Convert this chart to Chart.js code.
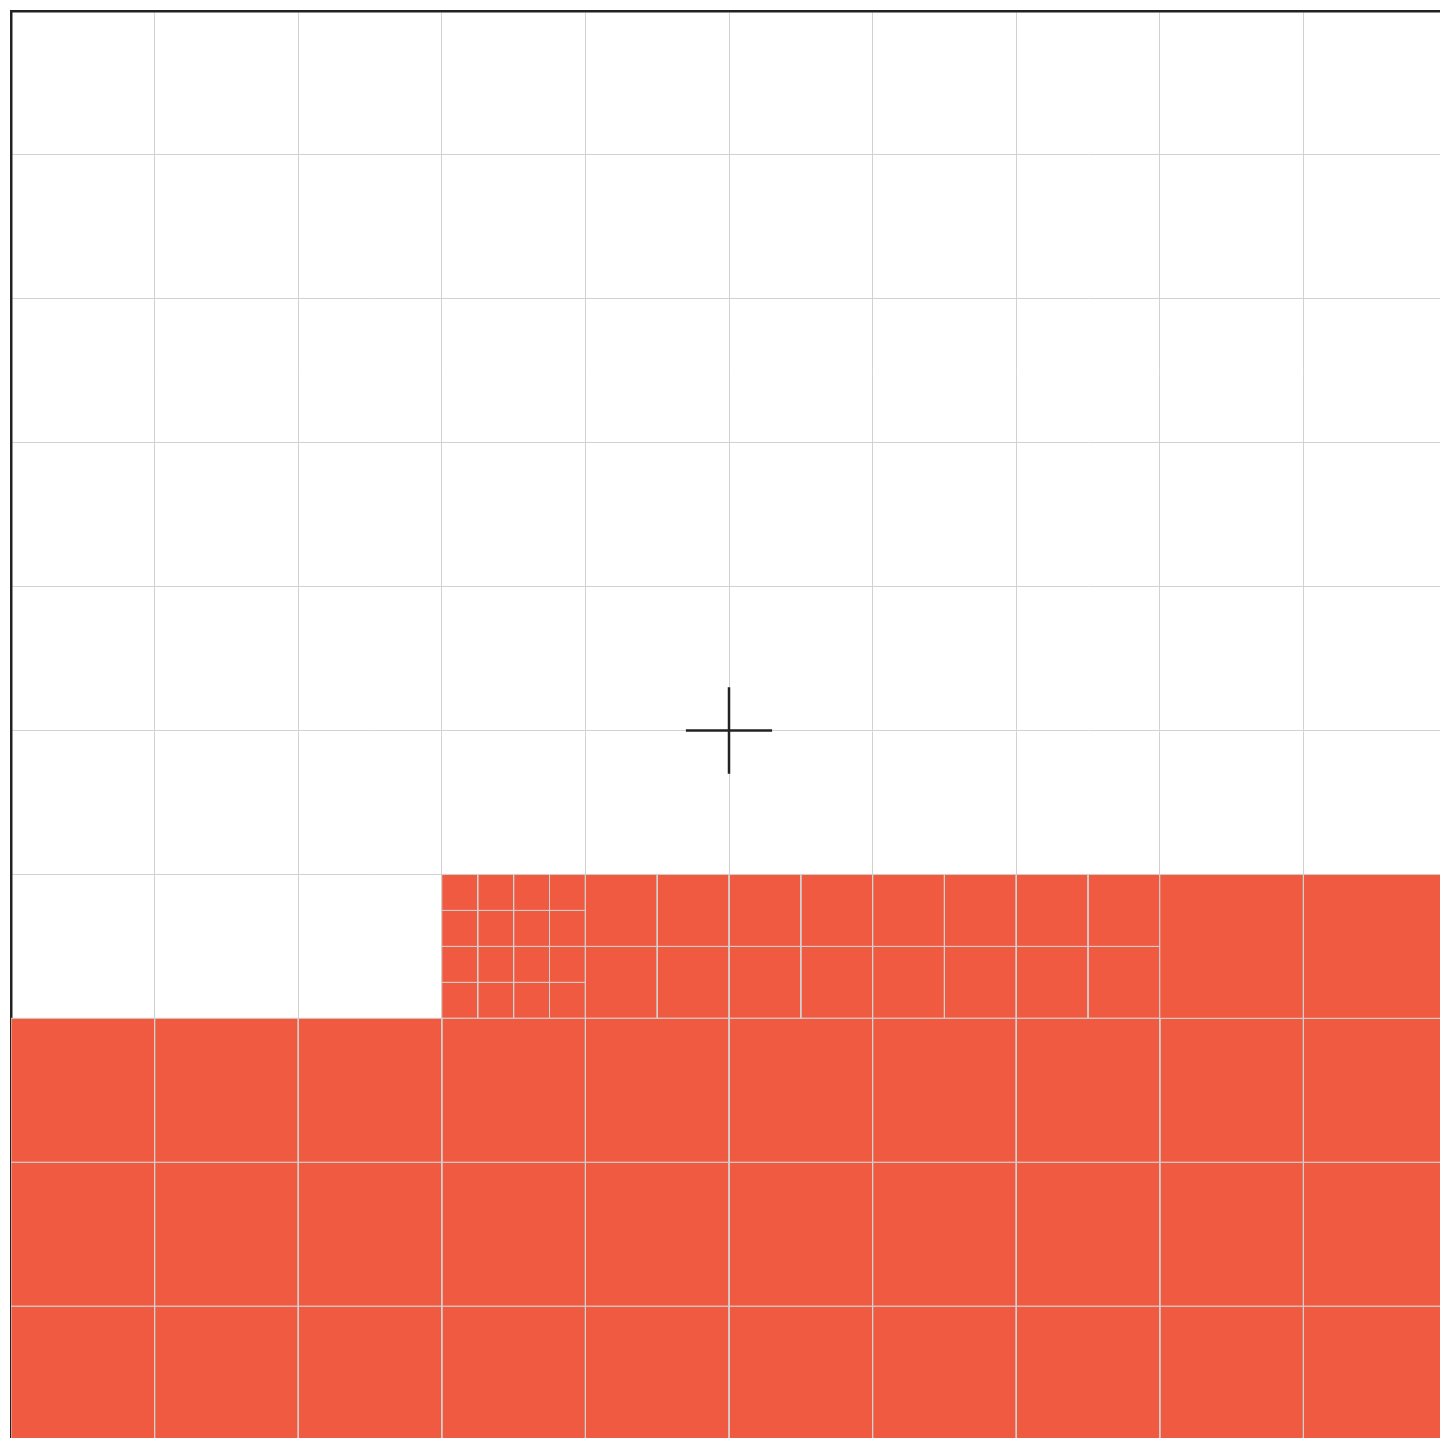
<!DOCTYPE html>
<html>
<head>
<meta charset="utf-8">
<script src="https://cdn.jsdelivr.net/npm/chart.js@4/dist/chart.umd.min.js"></script>
<style>
  html, body { margin: 0; padding: 0; background: #fff; overflow: hidden; }
  .marco { position: absolute; left: 0; top: 0; width: 1447px; height: 1450px; }
</style>
</head>
<body>
<div class="marco"><canvas id="grafico"></canvas></div>
<script>
// grid of 10 x 10 units, row 0 at the top
const columnas = [0, 1, 2, 3, 4, 5, 6, 7, 8, 9, 10];
const filas = [0, 1, 2, 3, 4, 5, 6, 7, 8, 9, 10];

// whole cells [col, row]
const celdasEnteras = [
  [8, 6], [9, 6],
  [0, 7], [1, 7], [2, 7], [3, 7], [4, 7], [5, 7], [6, 7], [7, 7], [8, 7], [9, 7],
  [0, 8], [1, 8], [2, 8], [3, 8], [4, 8], [5, 8], [6, 8], [7, 8], [8, 8], [9, 8],
  [0, 9], [1, 9], [2, 9], [3, 9], [4, 9], [5, 9], [6, 9], [7, 9], [8, 9], [9, 9]
];
// half cells (1/4 of a unit each)
const celdasMedias = [
  [4, 6], [4.5, 6], [5, 6], [5.5, 6], [6, 6], [6.5, 6], [7, 6], [7.5, 6],
  [4, 6.5], [4.5, 6.5], [5, 6.5], [5.5, 6.5], [6, 6.5], [6.5, 6.5], [7, 6.5], [7.5, 6.5]
];
// quarter cells (1/16 of a unit each)
const celdasCuarto = [
  [3, 6], [3.25, 6], [3.5, 6], [3.75, 6],
  [3, 6.25], [3.25, 6.25], [3.5, 6.25], [3.75, 6.25],
  [3, 6.5], [3.25, 6.5], [3.5, 6.5], [3.75, 6.5],
  [3, 6.75], [3.25, 6.75], [3.5, 6.75], [3.75, 6.75]
];

// centre marker
const marcaX = [4.7, 5.3];
const marcaY = [4.7, 5.3];
const marcaCentro = [5, 5];

const rojo = '#f05a40';
const gris = '#d2d2d2';
const negro = '#222';

function celda(x, y, lado){
  return {
    data: [
      {x: x, y: y}, {x: x + lado, y: y}, {x: x + lado, y: y + lado},
      {x: x, y: y + lado}, {x: x, y: y}
    ],
    showLine: true,
    fill: 'shape',
    backgroundColor: rojo,
    borderColor: gris,
    borderWidth: 1,
    borderJoinStyle: 'miter',
    pointRadius: 0,
    tension: 0
  };
}

const datasets = [
  {
    data: [{x: marcaX[0], y: marcaCentro[1]}, {x: marcaX[1], y: marcaCentro[1]}],
    showLine: true, borderColor: negro, borderWidth: 2.5, pointRadius: 0
  },
  {
    data: [{x: marcaCentro[0], y: marcaY[0]}, {x: marcaCentro[0], y: marcaY[1]}],
    showLine: true, borderColor: negro, borderWidth: 2.5, pointRadius: 0
  }
];
celdasEnteras.forEach(c => datasets.push(celda(c[0], c[1], 1)));
celdasMedias.forEach(c => datasets.push(celda(c[0], c[1], 0.5)));
celdasCuarto.forEach(c => datasets.push(celda(c[0], c[1], 0.25)));

new Chart(document.getElementById('grafico'), {
  type: 'scatter',
  data: { datasets: datasets },
  options: {
    responsive: true,
    maintainAspectRatio: false,
    animation: false,
    layout: { padding: { left: 11, top: 11, right: 0, bottom: 0 } },
    plugins: { legend: { display: false }, tooltip: { enabled: false } },
    scales: {
      x: {
        type: 'linear', position: 'top',
        min: columnas[0], max: columnas[columnas.length - 1],
        ticks: { display: false, stepSize: 1 },
        grid: { color: gris, lineWidth: 1, drawTicks: false },
        border: { display: true, color: negro, width: 2.5 }
      },
      y: {
        type: 'linear', position: 'left', reverse: true,
        min: filas[0], max: filas[filas.length - 1],
        ticks: { display: false, stepSize: 1 },
        grid: { color: gris, lineWidth: 1, drawTicks: false },
        border: { display: true, color: negro, width: 2.5 }
      }
    }
  }
});
</script>
</body>
</html>
